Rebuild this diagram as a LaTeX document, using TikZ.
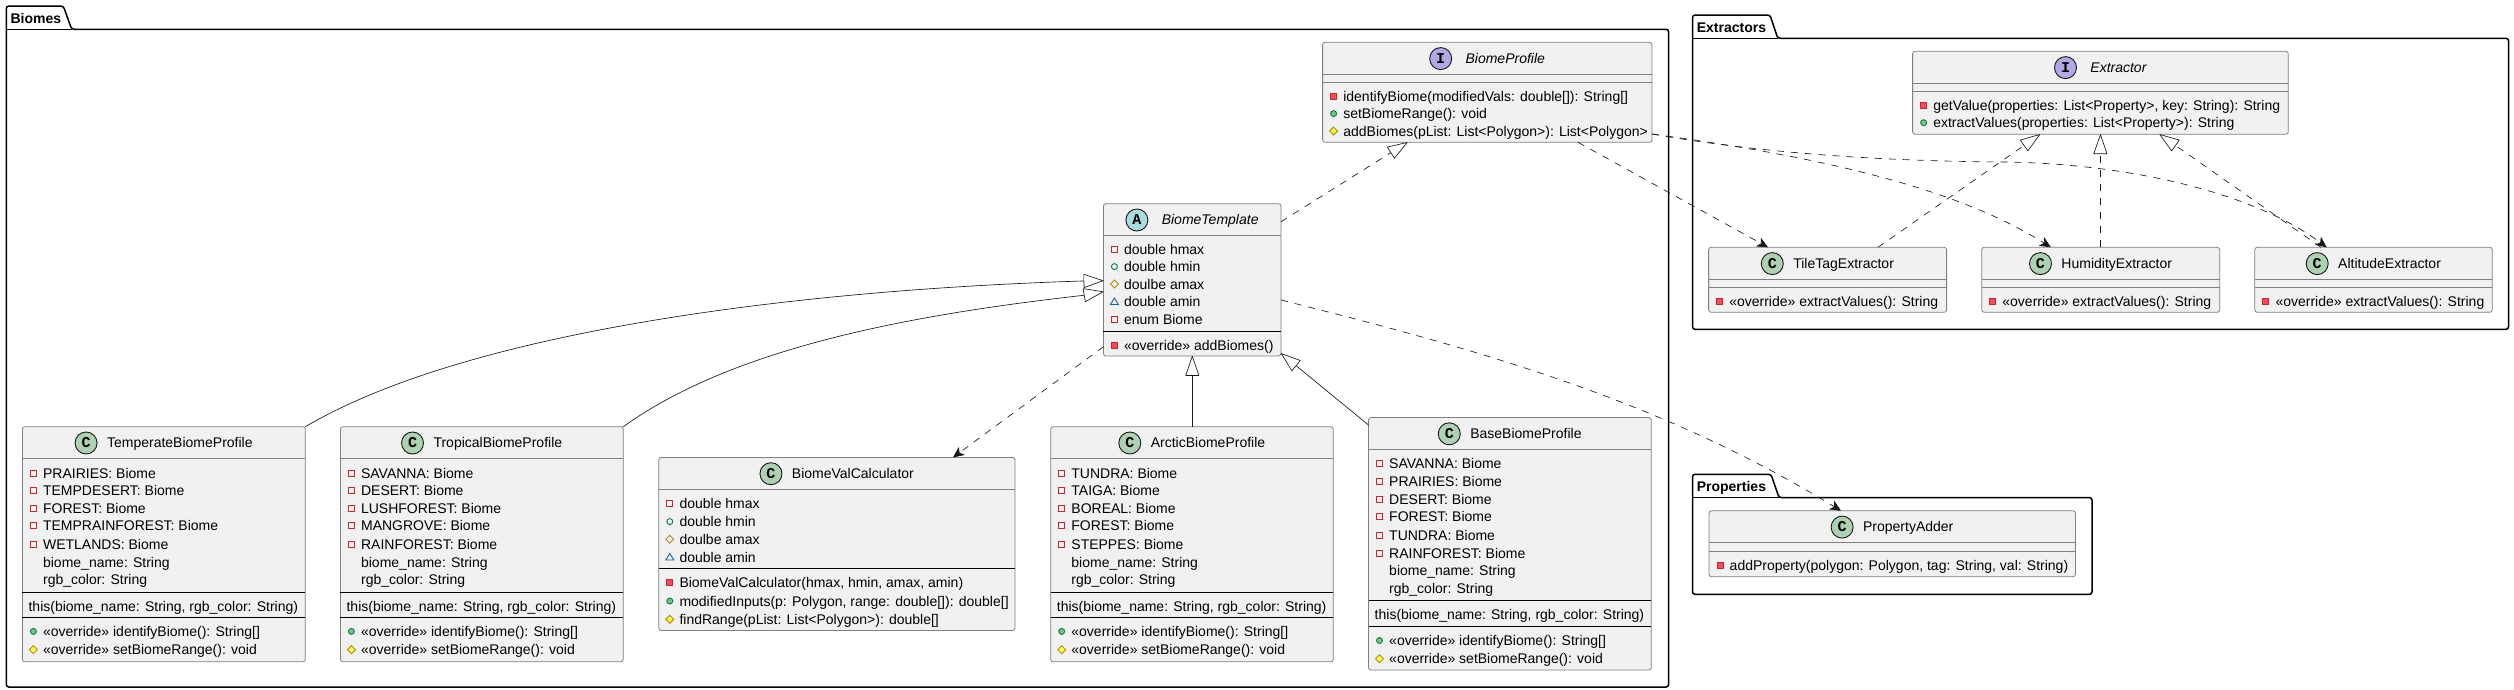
\documentclass[tikz,border=0pt]{standalone}
\usepackage{fontspec}
\setmainfont{Liberation Sans}
\newfontfamily\spotfont{Liberation Mono}[BoldFont={Liberation Mono Bold}]
\usetikzlibrary{arrows.meta,calc}
\definecolor{boxfill}{HTML}{F1F1F1}
\definecolor{boxline}{HTML}{808080}
\definecolor{inkline}{HTML}{181818}
\definecolor{spotC}{HTML}{ADD1B2}
\definecolor{spotI}{HTML}{B4A7E5}
\definecolor{spotA}{HTML}{A9DCDF}
\definecolor{privline}{HTML}{C82930}
\definecolor{privfill}{HTML}{F24D5C}
\definecolor{publine}{HTML}{038048}
\definecolor{pubfill}{HTML}{84BE84}
\definecolor{protline}{HTML}{B38D22}
\definecolor{protfill}{HTML}{FFFF44}
\definecolor{pkgline}{HTML}{1963A0}
\tikzset{
  classbox/.style={draw=boxline,fill=boxfill,line width=.8pt,rounded corners=2.5pt,inner sep=0pt,outer sep=0pt},
  txt/.style={inner sep=0pt,outer sep=0pt,font=\fontsize{14}{16}\selectfont,text=black},
  pkgframe/.style={draw=black,line width=1.5pt,fill=white,rounded corners=2.5pt},
  conn/.style={draw=inkline,line width=.65pt},
  dashconn/.style={conn,dash pattern=on 7pt off 7pt},
  open arrow/.style={-{Stealth[length=11pt,width=10pt,inset=3pt,fill=inkline]}},
  hollow/.style={-{Triangle[length=20.5pt,width=14pt,fill=white,line join=round,sep=0pt]}},
}
\newcount\txtid
% class: name x1 y1 x2 y2 letter colour title font
\newcommand{\classnode}[9]{%
  \pgfmathsetmacro\cw{#4-#2}\pgfmathsetmacro\ch{#5-#3}%
  \xdef\cx{#2}\xdef\cxr{#4}%
  \node[classbox,anchor=north west,minimum width=\cw pt,minimum height=\ch pt] (#1) at (#2,#3) {};
  \global\advance\txtid by 1
  \node[txt,anchor=base] (h\the\txtid) at ({(#2+#4)/2+16},{#3+21}) {#9 #8};
  \draw[inkline,fill=#7,line width=.9pt] ($(h\the\txtid.base west)+(-21,-4.7)$) circle[radius=11pt];
  \node[txt,anchor=base] (s\the\txtid) at ($(h\the\txtid.base west)+(-21,0)$) {\spotfont\bfseries\fontsize{15}{15}\selectfont #6};
  \draw[boxline,line width=.8pt] (#2,#3+32) -- (#4,#3+32);
}
\newcommand{\sepline}[2]{\draw[#2,line width=.8pt] (\cx,#1) -- (\cxr,#1);}
\newcommand{\prf}[1]{\draw[privline,line width=.9pt] (\cx+8,#1-3) rectangle (\cx+14,#1+3);}
\newcommand{\prm}[1]{\draw[privline,fill=privfill,line width=.9pt] (\cx+8,#1-3) rectangle (\cx+14,#1+3);}
\newcommand{\puf}[1]{\draw[publine,line width=.9pt] (\cx+11,#1) circle[radius=3pt];}
\newcommand{\pum}[1]{\draw[publine,fill=pubfill,line width=.9pt] (\cx+11,#1) circle[radius=3pt];}
\newcommand{\prof}[1]{\draw[protline,line width=.9pt] (\cx+7,#1) -- (\cx+11,#1-4) -- (\cx+15,#1) -- (\cx+11,#1+4) -- cycle;}
\newcommand{\prom}[1]{\draw[protline,fill=protfill,line width=.9pt] (\cx+7,#1) -- (\cx+11,#1-4) -- (\cx+15,#1) -- (\cx+11,#1+4) -- cycle;}
\newcommand{\pkf}[1]{\draw[pkgline,line width=.9pt] (\cx+7,#1+3) -- (\cx+15,#1+3) -- (\cx+11,#1-3.5) -- cycle;}
\newcommand{\none}[1]{}
\newcommand{\mem}[3]{\csname #2\endcsname{#1}\global\advance\txtid by 1 \node[txt,anchor=base west] (m\the\txtid) at (\cx+20.7,#1+5) {#3};}
\newcommand{\ctor}[2]{\global\advance\txtid by 1 \node[txt,anchor=base west] (m\the\txtid) at (\cx+6.2,#1+5) {#2};}
\newcommand{\pkg}[9]{%
  \draw[pkgframe] (#2,#6) -- (#2,#3) -- (#4,#3) -- (#5,#6) -- (#7,#6) -- (#7,#8) -- (#2,#8) -- cycle;
  \draw[black,line width=1.5pt] (#2,#6) -- (#5,#6);
  \node[txt,anchor=base west,font=\fontsize{14}{16}\selectfont\bfseries] (#1) at (#2+4.3,#9) {#1};
}
\newcommand{\overrideI}{«override» identifyBiome(): String[]}
\newcommand{\overrideS}{«override» setBiomeRange(): void}
\newcommand{\thisctor}{this(biome\_name: String, rgb\_color: String)}
\newcommand{\overrideX}{«override» extractValues(): String}
\begin{document}
\begin{tikzpicture}[x=1pt,y=-1pt]
\useasboundingbox (0,0) rectangle (2514,689);
\fill[white] (0,0) rectangle (2514,689);
\pkg{Biomes}{6.3}{6}{63.3}{71.7}{29.3}{1668.6}{687}{23}
\pkg{Extractors}{1692.5}{15}{1770}{1777.7}{38.3}{2508.5}{329.3}{32}
\pkg{Properties}{1692.5}{474.3}{1771}{1779}{497.6}{2092}{594.3}{491}

% BiomeProfile
\classnode{bprofile}{1322.6}{42.3}{1652}{142.3}{I}{spotI}{BiomeProfile}{\itshape}
\sepline{82.3}{boxline}
\mem{96}{prm}{identifyBiome(modifiedVals: double[]): String[]}
\mem{113.6}{pum}{setBiomeRange(): void}
\mem{131}{prom}{addBiomes(pList: List<Polygon>): List<Polygon>}

% BiomeTemplate
\classnode{tmpl}{1103.4}{203.7}{1281}{356}{A}{spotA}{BiomeTemplate}{\itshape}
\mem{249.3}{prf}{double hmax}
\mem{266.6}{puf}{double hmin}
\mem{284}{prof}{doulbe amax}
\mem{301.5}{pkf}{double amin}
\mem{319.3}{prf}{enum Biome}
\sepline{331.5}{black}
\mem{345}{prm}{«override» addBiomes()}

% Temperate
\classnode{temperate}{22.4}{426.7}{305.3}{661.8}{C}{spotC}{TemperateBiomeProfile}{}
\mem{473}{prf}{PRAIRIES: Biome}
\mem{490.6}{prf}{TEMPDESERT: Biome}
\mem{508.4}{prf}{FOREST: Biome}
\mem{525.8}{prf}{TEMPRAINFOREST: Biome}
\mem{544.2}{prf}{WETLANDS: Biome}
\mem{562.4}{none}{biome\_name: String}
\mem{579.7}{none}{rgb\_color: String}
\sepline{591.9}{black}
\ctor{606}{\thisctor}
\sepline{617.2}{black}
\mem{631.4}{pum}{\overrideI}
\mem{649.7}{prom}{\overrideS}

% Tropical
\classnode{tropical}{340.4}{426.7}{623.3}{661.8}{C}{spotC}{TropicalBiomeProfile}{}
\mem{473}{prf}{SAVANNA: Biome}
\mem{490.6}{prf}{DESERT: Biome}
\mem{508.4}{prf}{LUSHFOREST: Biome}
\mem{525.8}{prf}{MANGROVE: Biome}
\mem{544.2}{prf}{RAINFOREST: Biome}
\mem{562.4}{none}{biome\_name: String}
\mem{579.7}{none}{rgb\_color: String}
\sepline{591.9}{black}
\ctor{606}{\thisctor}
\sepline{617.2}{black}
\mem{631.4}{pum}{\overrideI}
\mem{649.7}{prom}{\overrideS}

% Calculator
\classnode{calc}{658.8}{457.4}{1015}{630.4}{C}{spotC}{BiomeValCalculator}{}
\mem{503.4}{prf}{double hmax}
\mem{521.6}{puf}{double hmin}
\mem{539.2}{prof}{doulbe amax}
\mem{557}{pkf}{double amin}
\sepline{568.6}{black}
\mem{582.8}{prm}{BiomeValCalculator(hmax, hmin, amax, amin)}
\mem{601}{pum}{modifiedInputs(p: Polygon, range: double[]): double[]}
\mem{619.3}{prom}{findRange(pList: List<Polygon>): double[]}

% Arctic
\classnode{arctic}{1050.7}{426.7}{1333.3}{661.8}{C}{spotC}{ArcticBiomeProfile}{}
\mem{473}{prf}{TUNDRA: Biome}
\mem{490.6}{prf}{TAIGA: Biome}
\mem{508.4}{prf}{BOREAL: Biome}
\mem{525.8}{prf}{FOREST: Biome}
\mem{544.2}{prf}{STEPPES: Biome}
\mem{562.4}{none}{biome\_name: String}
\mem{579.7}{none}{rgb\_color: String}
\sepline{591.9}{black}
\ctor{606}{\thisctor}
\sepline{617.2}{black}
\mem{631.4}{pum}{\overrideI}
\mem{649.7}{prom}{\overrideS}

% Base
\classnode{base}{1368.5}{417.5}{1651.3}{670}{C}{spotC}{BaseBiomeProfile}{}
\mem{463.9}{prf}{SAVANNA: Biome}
\mem{481.4}{prf}{PRAIRIES: Biome}
\mem{499.5}{prf}{DESERT: Biome}
\mem{516.9}{prf}{FOREST: Biome}
\mem{535.1}{prf}{TUNDRA: Biome}
\mem{553.4}{prf}{RAINFOREST: Biome}
\mem{570.6}{none}{biome\_name: String}
\mem{588.7}{none}{rgb\_color: String}
\sepline{600}{black}
\ctor{614.2}{\thisctor}
\sepline{626.4}{black}
\mem{640.5}{pum}{\overrideI}
\mem{658.8}{prom}{\overrideS}

% Extractor
\classnode{extractor}{1912.6}{51.3}{2288.3}{134.3}{I}{spotI}{Extractor}{\itshape}
\sepline{91.3}{boxline}
\mem{105.3}{prm}{getValue(properties: List<Property>, key: String): String}
\mem{122.7}{pum}{extractValues(properties: List<Property>): String}

% TileTag
\classnode{tiletag}{1708.6}{247.3}{1946.6}{312.3}{C}{spotC}{TileTagExtractor}{}
\sepline{287.3}{boxline}
\mem{301.3}{prm}{\overrideX}
% Humidity
\classnode{humidity}{1981.7}{247.3}{2219.7}{312.3}{C}{spotC}{HumidityExtractor}{}
\sepline{287.3}{boxline}
\mem{301.3}{prm}{\overrideX}
% Altitude
\classnode{altitude}{2254.8}{247.3}{2492.3}{312.3}{C}{spotC}{AltitudeExtractor}{}
\sepline{287.3}{boxline}
\mem{301.3}{prm}{\overrideX}

% PropertyAdder
\classnode{adder}{1709}{510.8}{2075.5}{576.7}{C}{spotC}{PropertyAdder}{}
\sepline{551.2}{boxline}
\mem{565}{prm}{addProperty(polygon: Polygon, tag: String, val: String)}

% Connectors
\draw[conn,hollow] (temperate.north east) .. controls (470,330) and (800,290) .. (1082,281) -- (tmpl.west |- 0,280.7);
\draw[conn,hollow] (tropical.north east) .. controls (730,350) and (900,316) .. (1082,295.5) -- (tmpl.west |- 0,291.7);
\draw[conn,hollow] (1192.3,0 |- arctic.north) -- (1192.3,0 |- tmpl.south);
\draw[conn,hollow] (base.west |- 0,425) -- (tmpl.east |- 0,353.3);
\draw[dashconn,hollow] (tmpl.east |- 0,221.7) -- (1407.4,0 |- bprofile.south);
\draw[dashconn,open arrow] (tmpl.west |- 0,346.7) -- (953,0 |- calc.north);
\draw[dashconn,open arrow] (tmpl.east |- 0,300) .. controls (1480,350) and (1660,400) .. (1841,0 |- adder.north);
\draw[dashconn,open arrow] (1578,0 |- bprofile.south) -- (1768,0 |- tiletag.north);
\draw[dashconn,open arrow] (bprofile.east |- 0,134) .. controls (1830,158) and (1960,190) .. (2050.8,0 |- humidity.north);
\draw[dashconn,open arrow] (bprofile.east |- 0,134) .. controls (1760,153) and (1880,161) .. (2002,162) .. controls (2120,163) and (2250,190) .. (2326.7,0 |- altitude.north);
\draw[dashconn,hollow] (1878,0 |- tiletag.north) -- (2040,0 |- extractor.south);
\draw[dashconn,hollow] (2100.4,0 |- humidity.north) -- (2100.4,0 |- extractor.south);
\draw[dashconn,hollow] (2321,0 |- altitude.north) -- (2159.5,0 |- extractor.south);
\end{tikzpicture}
\end{document}
